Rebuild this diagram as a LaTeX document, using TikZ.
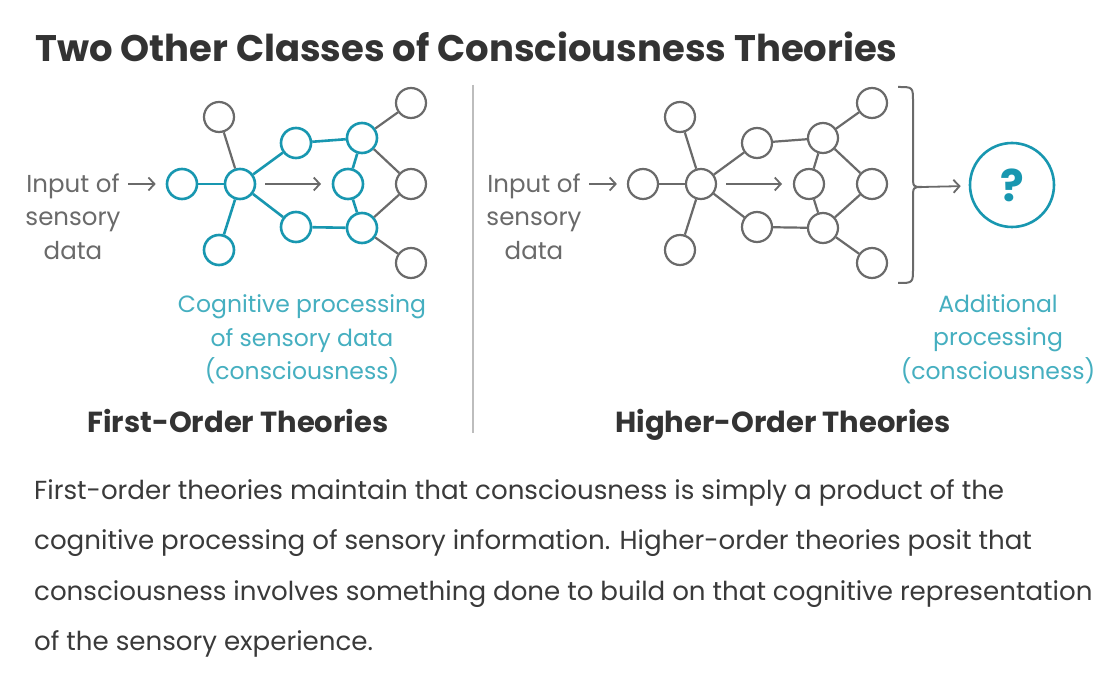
\documentclass[tikz,border=0pt]{standalone}
\usepackage{fontspec}
\setmainfont{Poppins}
\usetikzlibrary{arrows.meta}
\definecolor{ink}{HTML}{333333}
\definecolor{para}{HTML}{3A3A3A}
\definecolor{gstroke}{HTML}{6A6A6A}
\definecolor{tealdark}{HTML}{1897B0}
\definecolor{tealtext}{HTML}{45AFC0}
\definecolor{glowc}{HTML}{5CD6F0}
\definecolor{divider}{HTML}{BDBDBD}
\pgfdeclarelayer{bg}
\pgfsetlayers{bg,main}
\tikzset{
  gnode/.style={circle, draw=gstroke, line width=2.2pt, fill=white, minimum size=30pt, inner sep=0pt},
  bnode/.style={gnode, draw=tealdark, line width=2.6pt},
  gedge/.style={draw=gstroke, line width=2.2pt},
  bedge/.style={draw=tealdark, line width=2.6pt},
  thinarrow/.style={draw=gstroke, line width=1.8pt, -{Straight Barb[length=6pt,width=13pt,line width=1.8pt]}},
  graytxt/.style={text=gstroke, font=\fontsize{24.5}{30}\selectfont, anchor=base, inner sep=0pt},
  bluetxt/.style={text=tealtext, font=\fontsize{23.5}{30}\selectfont, anchor=base, inner sep=0pt},
  sectxt/.style={text=ink, font=\bfseries\fontsize{29}{34}\selectfont, anchor=base, inner sep=0pt},
  paratxt/.style={text=para, font=\fontsize{26.1}{30}\selectfont, anchor=base west, inner sep=0pt},
}
% network: #1 style for highlighted nodes, #2 style for highlighted edges
\newcommand\drawnet[2]{%
  \node[#1] (in)  at (182,184) {};
  \node[#1] (hub) at (240,184) {};
  \node[gnode] (top) at (219,117) {};
  \node[#1] (bot) at (219,250) {};
  \node[#1] (um)  at (296,143) {};
  \node[#1] (lm)  at (296,227) {};
  \node[#1] (rt)  at (362,138) {};
  \node[#1] (rm)  at (348,184) {};
  \node[#1] (rb)  at (362,228) {};
  \node[gnode] (ft) at (411,103) {};
  \node[gnode] (fm) at (411,184) {};
  \node[gnode] (fb) at (411,263) {};
  \draw[gedge] (top) -- (hub);
  \draw[#2] (in) -- (hub);
  \draw[#2] (hub) -- (bot);
  \draw[#2] (hub) -- (um);
  \draw[#2] (hub) -- (lm);
  \draw[#2] (um) -- (rt);
  \draw[#2] (lm) -- (rb);
  \draw[#2] (rt) -- (rm);
  \draw[#2] (rm) -- (rb);
  \draw[gedge] (rt) -- (ft);
  \draw[gedge] (rt) -- (fm);
  \draw[gedge] (rb) -- (fm);
  \draw[gedge] (rb) -- (fb);
  \coordinate (mA) at (265,184);
  \coordinate (mB) at (321,184);
  \draw[thinarrow] (mA) -- (mB);
  \node[graytxt] (t1) at (73,193) {Input of};
  \node[graytxt] (t2) at (73,226) {sensory};
  \node[graytxt] (t3) at (73,260) {data};
  \coordinate (ia) at (128,184);
  \draw[thinarrow, shorten >=10pt] (ia) -- (in);
}
\newcommand\glowat[1]{%
  \foreach \r/\o in {27/0.08,24/0.12,21.5/0.17,19/0.25,17.5/0.3}{\fill[glowc, opacity=\o] (#1) circle (\r);}
}
\begin{document}
\begin{tikzpicture}[x=1pt,y=-1pt]
\useasboundingbox (0,0) rectangle (1120,684);
\fill[white] (0,0) rectangle (1120,684);

\node[text=ink, font=\bfseries\fontsize{37}{44}\selectfont, anchor=base west, inner sep=0pt] (title) at (35,62) {Two Other Classes of Consciousness Theories};

% left network
\begin{scope}[name prefix=L-]
  \drawnet{bnode}{bedge}
  \begin{pgfonlayer}{bg}
    \foreach \c in {in,hub,bot,um,lm,rt,rm,rb}{\glowat{L-\c}}
    \foreach \a/\b in {in/hub,hub/bot,hub/um,hub/lm,um/rt,lm/rb,rt/rm,rm/rb}{
      \draw[glowc, opacity=0.2, line width=10pt] (L-\a.center) -- (L-\b.center);}
  \end{pgfonlayer}
\end{scope}

% right network
\begin{scope}[xshift=461pt, name prefix=R-]
  \drawnet{gnode}{gedge}
\end{scope}

% divider
\coordinate (dvT) at (473,85);
\coordinate (dvB) at (473,433);
\draw[divider, line width=1.5pt] (dvT) -- (dvB);

% bracket
\coordinate (brT) at (898,87);
\coordinate (brTip) at (922,187);
\coordinate (brB) at (898,283);
\draw[gstroke, line width=2pt] (brT) .. controls (913,87) .. (913,102) -- (913,175) .. controls (913,187) .. (brTip) .. controls (913,187) .. (913,199) -- (913,268) .. controls (913,283) .. (brB);

% question circle
\begin{pgfonlayer}{bg}
  \foreach \r/\o in {55/0.07,51/0.11,48/0.16,45.5/0.25,44/0.3}{\fill[glowc, opacity=\o] (1012,185) circle (\r);}
\end{pgfonlayer}
\node[circle, draw=tealdark, line width=2.6pt, fill=white, minimum size=84pt, inner sep=0pt, text=tealdark, font=\bfseries\fontsize{44}{48}\selectfont] (q) at (1012,185) {?};
\draw[thinarrow, shorten >=8pt] (brTip) -- (q);

% blue captions
\node[bluetxt] (c1) at (302,313) {Cognitive processing};
\node[bluetxt] (c2) at (302,347) {of sensory data};
\node[bluetxt] (c3) at (302,380) {(consciousness)};
\node[bluetxt] (a1) at (998,313) {Additional};
\node[bluetxt] (a2) at (998,346) {processing};
\node[bluetxt] (a3) at (998,380) {(consciousness)};

% section titles
\node[sectxt] (s1) at (238,433) {First-Order Theories};
\node[sectxt] (s2) at (783,433) {Higher-Order Theories};

% paragraph
\node[paratxt] (p1) at (34,500) {First-order theories maintain that consciousness is simply a product of the};
\node[paratxt] (p2) at (34,550) {cognitive processing of sensory information. Higher-order theories posit that};
\node[paratxt] (p3) at (34,600) {consciousness involves something done to build on that cognitive representation};
\node[paratxt] (p4) at (34,650) {of the sensory experience.};
\end{tikzpicture}
\end{document}
